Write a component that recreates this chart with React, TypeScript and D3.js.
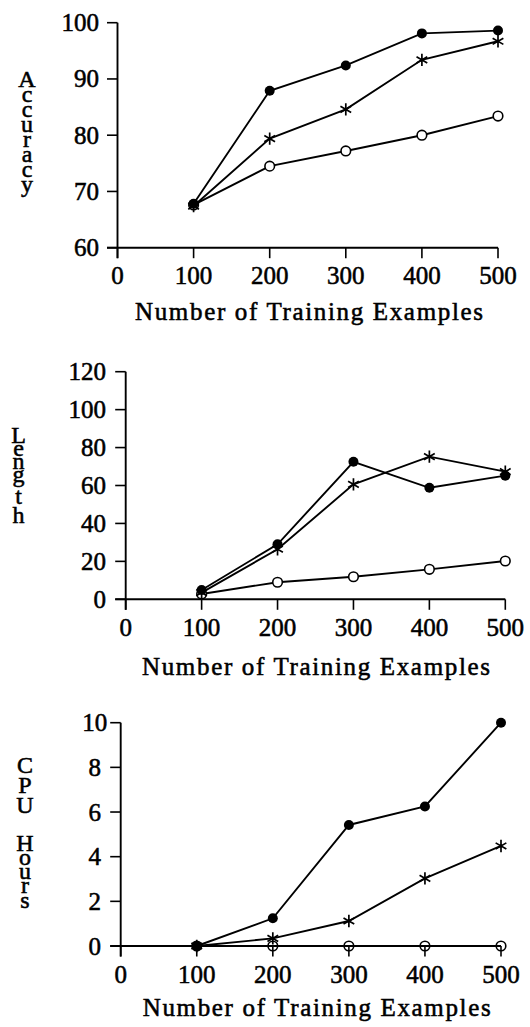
import React from 'react';
import * as d3 from 'd3';

// x values shared by all three panels
const trainSizes = [100, 200, 300, 400, 500];
const xTickValues = [0, 100, 200, 300, 400, 500];

// panel 1: accuracy
const accFilled = [67.8, 87.9, 92.4, 98.1, 98.6];
const accStar = [67.4, 79.4, 84.6, 93.4, 96.7];
const accOpen = [67.6, 74.5, 77.2, 80.0, 83.4];
const accTicks = [60, 70, 80, 90, 100];

// panel 2: length
const lenFilled = [4.9, 29.0, 72.5, 58.8, 65.2];
const lenStar = [3.5, 26.4, 60.6, 75.2, 67.3];
const lenOpen = [2.8, 9.0, 11.9, 15.8, 20.2];
const lenTicks = [0, 20, 40, 60, 80, 100, 120];

// panel 3: cpu hours
const cpuFilled = [0, 1.24, 5.42, 6.25, 10.0];
const cpuStar = [0, 0.34, 1.12, 3.03, 4.48];
const cpuOpen = [0, 0, 0, 0, 0];
const cpuTicks = [0, 2, 4, 6, 8, 10];

const xTitle = 'Number of Training Examples';

const FONT = "'Liberation Serif', 'Times New Roman', serif";
const FS = 25;
const LFS = 24; // stacked y titles
const TXT_STROKE = 0.55; // thickens the thin Times strokes a bit, like the scan

// rough letter metrics (fraction of em) for the stacked y titles
const tallLower = 'bdhkl';
const descLower = 'gjpqy';
function letterHeight(ch: string) {
  if (ch === ' ') return 0;
  if (ch === 't') return 0.615;
  if (ch === 'i' || ch === 'j') return 0.67;
  if (tallLower.includes(ch)) return 0.694;
  if (ch >= 'A' && ch <= 'Z') return 0.683;
  return 0.45;
}
function letterDepth(ch: string) {
  return descLower.includes(ch) ? 0.21 : 0;
}

function StackedLabel({ text, x, firstBaseline, gap, blank }: { text: string; x: number; firstBaseline: number; gap: number; blank: number }) {
  const chars = text.split('');
  const ys: number[] = [];
  let y = firstBaseline;
  chars.forEach((ch, i) => {
    if (i > 0) {
      const prev = chars[i - 1];
      y += letterDepth(prev) * LFS + gap + (ch === ' ' ? blank : letterHeight(ch) * LFS);
    }
    ys.push(y);
  });
  return (
    <g>
      {chars.map((ch, i) =>
        ch === ' ' ? null : (
          <text key={i} x={x} y={ys[i]} textAnchor="middle" fontFamily={FONT} fontSize={LFS} stroke="#000" strokeWidth={TXT_STROKE}>
            {ch}
          </text>
        )
      )}
    </g>
  );
}

function Star({ x, y, r }: { x: number; y: number; r: number }) {
  const a = (Math.PI / 180) * 30;
  const dx = r * Math.cos(a);
  const dy = r * Math.sin(a);
  return (
    <path
      d={`M${x},${y - r}L${x},${y + r}M${x - dx},${y - dy}L${x + dx},${y + dy}M${x - dx},${y + dy}L${x + dx},${y - dy}`}
      stroke="#000"
      strokeWidth={1.7}
      fill="none"
    />
  );
}

type PanelProps = {
  x0: number; x1: number; yTop: number; yBottom: number;
  yDomain: [number, number];
  yTicks: number[];
  filled: number[]; star: number[]; open: number[];
  yLabelAnchor: 'end' | 'middle'; yLabelX: number;
  title: string; titleX: number; titleY: number;
  label: string; labelX: number; labelY: number; labelGap: number;
  openFill: string;
};

function Panel(p: PanelProps) {
  const x = d3.scaleLinear().domain([0, 500]).range([p.x0, p.x1]);
  const y = d3.scaleLinear().domain(p.yDomain).range([p.yBottom, p.yTop]);
  const tick = 10.5;
  const line = d3.line<number>().x((_, i) => x(trainSizes[i])).y((d) => y(d));

  return (
    <g>
      {/* axes */}
      <line x1={x(0)} x2={x(0)} y1={y(p.yDomain[1])} y2={p.yBottom + tick} stroke="#000" strokeWidth={1.9} />
      <line x1={x(0) - tick} x2={x(500)} y1={p.yBottom} y2={p.yBottom} stroke="#000" strokeWidth={1.9} />
      {p.yTicks.map((t) => (
        <g key={'y' + t}>
          <line x1={x(0) - tick} x2={x(0)} y1={y(t)} y2={y(t)} stroke="#000" strokeWidth={1.6} />
          <text x={p.yLabelX} y={y(t) + 8.5} textAnchor={p.yLabelAnchor} fontFamily={FONT} fontSize={FS} stroke="#000" strokeWidth={TXT_STROKE}>
            {t}
          </text>
        </g>
      ))}
      {xTickValues.map((t) => (
        <g key={'x' + t}>
          <line x1={x(t)} x2={x(t)} y1={p.yBottom} y2={p.yBottom + tick} stroke="#000" strokeWidth={1.6} />
          <text x={x(t)} y={p.yBottom + 36.5} textAnchor="middle" fontFamily={FONT} fontSize={FS} stroke="#000" strokeWidth={TXT_STROKE}>
            {t}
          </text>
        </g>
      ))}

      {/* series lines */}
      <path d={line(p.open) || ''} fill="none" stroke="#000" strokeWidth={1.9} />
      <path d={line(p.star) || ''} fill="none" stroke="#000" strokeWidth={1.9} />
      <path d={line(p.filled) || ''} fill="none" stroke="#000" strokeWidth={1.9} />

      {/* markers */}
      {p.open.map((v, i) => (
        <circle key={'o' + i} cx={x(trainSizes[i])} cy={y(v)} r={4.8} fill={p.openFill} stroke="#000" strokeWidth={1.6} />
      ))}
      {p.filled.map((v, i) => (
        <circle key={'f' + i} cx={x(trainSizes[i])} cy={y(v)} r={5} fill="#000" />
      ))}
      {p.star.map((v, i) => (
        <Star key={'s' + i} x={x(trainSizes[i])} y={y(v)} r={6.2} />
      ))}

      <text x={p.titleX} y={p.titleY} textAnchor="middle" fontFamily={FONT} fontSize={FS} stroke="#000" strokeWidth={TXT_STROKE} textLength={348} lengthAdjust="spacing">
        {p.title}
      </text>
      <StackedLabel text={p.label} x={p.labelX} firstBaseline={p.labelY} gap={p.labelGap} blank={15} />
    </g>
  );
}

export default function App() {
  return (
    <svg width={530} height={1027} style={{ position: 'absolute', left: 0, top: 0, background: '#fff' }}>
      <rect width={530} height={1027} fill="#fff" />
      <Panel
        x0={117.5} x1={498} yTop={22.7} yBottom={247.7} yDomain={[60, 100]} yTicks={accTicks}
        filled={accFilled} star={accStar} open={accOpen}
        yLabelAnchor="end" yLabelX={99}
        title={xTitle} titleX={309} titleY={320}
        label="Accuracy" labelX={27} labelY={87} labelGap={4.2}
        openFill="#fff"
      />
      <Panel
        x0={125.7} x1={505.3} yTop={371.7} yBottom={599.3} yDomain={[0, 120]} yTicks={lenTicks}
        filled={lenFilled} star={lenStar} open={lenOpen}
        yLabelAnchor="end" yLabelX={106}
        title={xTitle} titleX={316} titleY={675}
        label="Length" labelX={18.5} labelY={443} labelGap={2.2}
        openFill="#fff"
      />
      <Panel
        x0={120.7} x1={501} yTop={722.7} yBottom={946} yDomain={[0, 10]} yTicks={cpuTicks}
        filled={cpuFilled} star={cpuStar} open={cpuOpen}
        yLabelAnchor="middle" yLabelX={94.7}
        title={xTitle} titleX={316.7} titleY={1016}
        label="CPU Hours" labelX={25} labelY={773} labelGap={3.4}
        openFill="none"
      />
    </svg>
  );
}
